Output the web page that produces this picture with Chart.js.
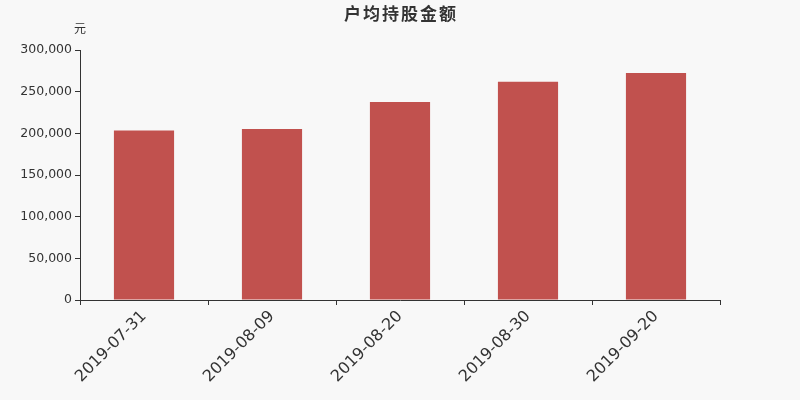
<!DOCTYPE html>
<html>
<head>
<meta charset="utf-8">
<script src="https://cdn.jsdelivr.net/npm/chart.js@4/dist/chart.umd.min.js"></script>
<style>
  html, body { margin: 0; padding: 0; background: #f8f8f8; }
  #wrap { width: 800px; height: 400px; }
</style>
</head>
<body>
<div id="wrap"><canvas id="chart" width="800" height="400"></canvas></div>
<script>
const dates = ["2019-07-31", "2019-08-09", "2019-08-20", "2019-08-30", "2019-09-20"];
const amounts = [203400, 205200, 237600, 262000, 272400];
const yTicks = [0, 50000, 100000, 150000, 200000, 250000, 300000];

const titleText = "户均持股金额";
const unitText = "元";

// title and unit label drawn by hand so they don't push the chart area around
const headerPlugin = {
  id: "header",
  afterDraw(chart) {
    const ctx = chart.ctx;
    ctx.save();
    ctx.fillStyle = "#333";
    ctx.textAlign = "center";
    ctx.textBaseline = "middle";
    ctx.font = "bold 17px 'Noto Sans CJK SC', 'DejaVu Sans'";
    ctx.letterSpacing = "2px";
    ctx.fillText(titleText, 401, 14);
    ctx.letterSpacing = "0px";
    ctx.font = "12px 'Noto Sans CJK SC', 'DejaVu Sans'";
    ctx.fillText(unitText, chart.chartArea.left, 28);
    ctx.restore();
  }
};

const bg = {
  id: "bg",
  beforeDraw(chart) {
    const ctx = chart.ctx;
    ctx.save();
    ctx.fillStyle = "#f8f8f8";
    ctx.fillRect(0, 0, chart.width, chart.height);
    ctx.restore();
  }
};

new Chart(document.getElementById("chart"), {
  type: "bar",
  data: {
    labels: dates,
    datasets: [{
      data: amounts,
      backgroundColor: "#c1514e",
      barPercentage: 0.47,
      categoryPercentage: 1.0
    }]
  },
  options: {
    responsive: false,
    animation: false,
    layout: { padding: { top: 50, right: 80, left: 0, bottom: 0 } },
    plugins: {
      legend: { display: false },
      title: { display: false },
      tooltip: { enabled: false }
    },
    scales: {
      x: {
        offset: true,
        grid: {
          offset: true,
          drawOnChartArea: false,
          drawTicks: true,
          tickLength: 5,
          color: "#333"
        },
        border: { display: true, color: "#333", width: 1 },
        ticks: {
          color: "#333",
          font: { family: "DejaVu Sans", size: 16 },
          maxRotation: 45,
          minRotation: 45,
          padding: 2
        },
        afterFit(scale) { scale.height = 100; }
      },
      y: {
        min: 0,
        max: 300000,
        afterBuildTicks(scale) {
          scale.ticks = yTicks.map(v => ({ value: v }));
        },
        grid: {
          drawOnChartArea: false,
          drawTicks: true,
          tickLength: 5,
          color: "#333"
        },
        border: { display: true, color: "#333", width: 1 },
        ticks: {
          color: "#333",
          font: { family: "DejaVu Sans", size: 12.5 },
          padding: 3,
          callback: v => v.toLocaleString("en-US")
        },
        afterFit(scale) { scale.width = 80; }
      }
    }
  },
  plugins: [bg, headerPlugin]
});
</script>
</body>
</html>
